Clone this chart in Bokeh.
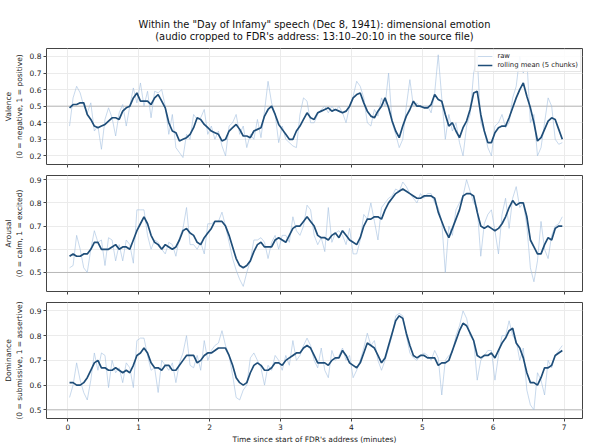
import numpy as np
from bokeh.plotting import figure
from bokeh.layouts import column
from bokeh.models import Span, Title, FixedTicker, Range1d
from bokeh.embed import file_html
from bokeh.resources import INLINE

CHUNK_MIN = 0.05  # each chunk = 3 s

valence_raw = [
    0.38, 0.55, 0.62, 0.58, 0.50, 0.46, 0.52, 0.35, 0.38, 0.24,
    0.42, 0.49, 0.43, 0.32, 0.46, 0.51, 0.38, 0.50, 0.61, 0.52,
    0.64, 0.50, 0.59, 0.43, 0.59, 0.58, 0.60, 0.50, 0.33, 0.45,
    0.25, 0.22, 0.19, 0.33, 0.30, 0.45, 0.42, 0.43, 0.48, 0.33,
    0.38, 0.30, 0.35, 0.26, 0.20, 0.38, 0.40, 0.45, 0.33, 0.38,
    0.25, 0.33, 0.30, 0.42, 0.31, 0.47, 0.65, 0.52, 0.45, 0.28,
    0.38, 0.30, 0.28, 0.26, 0.25, 0.45, 0.55, 0.53, 0.40, 0.40,
    0.45, 0.48, 0.50, 0.46, 0.50, 0.47, 0.50, 0.46, 0.40, 0.50,
    0.56, 0.65, 0.62, 0.55, 0.40, 0.38, 0.48, 0.44, 0.55, 0.50,
    0.70, 0.40, 0.33, 0.25, 0.30, 0.50, 0.66, 0.50, 0.52, 0.49,
    0.50, 0.50, 0.46, 0.58, 0.81, 0.55, 0.30, 0.45, 0.35, 0.40,
    0.28, 0.20, 0.38, 0.45, 0.70, 0.80, 0.40, 0.35, 0.25, 0.20,
    0.38, 0.40, 0.45, 0.37, 0.40, 0.55, 0.62, 0.80, 0.70, 0.78,
    0.40, 0.45, 0.20, 0.25, 0.40, 0.55, 0.50, 0.30, 0.27, 0.28,
]
valence_roll = [
    0.49, 0.51, 0.51, 0.52, 0.52, 0.45, 0.42, 0.38, 0.37, 0.38,
    0.39, 0.41, 0.43, 0.43, 0.42, 0.47, 0.49, 0.50, 0.55, 0.58,
    0.53, 0.53, 0.53, 0.51, 0.55, 0.57, 0.53, 0.49, 0.40, 0.35,
    0.34, 0.29, 0.30, 0.31, 0.33, 0.37, 0.43, 0.42, 0.39, 0.37,
    0.35, 0.34, 0.33, 0.29, 0.30, 0.35, 0.37, 0.39, 0.36, 0.32,
    0.32, 0.31, 0.35, 0.36, 0.37, 0.44, 0.48, 0.50, 0.45, 0.39,
    0.36, 0.33, 0.30, 0.30, 0.35, 0.38, 0.42, 0.46, 0.43, 0.42,
    0.46, 0.47, 0.48, 0.49, 0.47, 0.48, 0.47, 0.46, 0.47, 0.50,
    0.55, 0.57, 0.58, 0.52, 0.47, 0.44, 0.43, 0.47, 0.50, 0.55,
    0.49, 0.41, 0.35, 0.31, 0.38, 0.44, 0.48, 0.53, 0.50, 0.50,
    0.49, 0.49, 0.51, 0.57, 0.54, 0.53, 0.45, 0.38, 0.40, 0.35,
    0.31, 0.37, 0.41, 0.48, 0.58, 0.59, 0.45, 0.35, 0.28, 0.28,
    0.34, 0.37, 0.38, 0.38, 0.43, 0.49, 0.55, 0.60, 0.64, 0.56,
    0.49, 0.40, 0.29, 0.31, 0.36, 0.41, 0.43, 0.42, 0.36, 0.30,
]

arousal_raw = [
    0.52, 0.53, 0.66, 0.60, 0.52, 0.50, 0.60, 0.68, 0.63, 0.64,
    0.53, 0.65, 0.64, 0.55, 0.62, 0.55, 0.64, 0.62, 0.54, 0.77,
    0.77, 0.77, 0.66, 0.60, 0.64, 0.63, 0.60, 0.58, 0.63, 0.62,
    0.57, 0.65, 0.69, 0.78, 0.62, 0.62, 0.60, 0.63, 0.58, 0.71,
    0.71, 0.72, 0.72, 0.76, 0.70, 0.63, 0.56, 0.51, 0.47, 0.44,
    0.50, 0.55, 0.64, 0.64, 0.65, 0.63, 0.56, 0.63, 0.66, 0.60,
    0.66, 0.66, 0.63, 0.74, 0.68, 0.66, 0.70, 0.79, 0.77, 0.66,
    0.62, 0.65, 0.59, 0.78, 0.63, 0.67, 0.68, 0.66, 0.62, 0.69,
    0.58, 0.58, 0.64, 0.75, 0.73, 0.80, 0.72, 0.64, 0.78, 0.80,
    0.82, 0.83, 0.86, 0.85, 0.89, 0.87, 0.84, 0.82, 0.80, 0.84,
    0.82, 0.84, 0.84, 0.80, 0.78, 0.72, 0.50, 0.70, 0.66, 0.77,
    0.80, 0.83, 0.90, 0.85, 0.80, 0.78, 0.57, 0.71, 0.75, 0.77,
    0.68, 0.58, 0.75, 0.82, 0.69, 0.82, 0.87, 0.78, 0.80, 0.70,
    0.52, 0.46, 0.55, 0.72, 0.60, 0.56, 0.66, 0.70, 0.71, 0.74,
]
arousal_roll = [
    0.57, 0.58, 0.57, 0.57, 0.58, 0.58, 0.60, 0.63, 0.63, 0.60,
    0.60, 0.60, 0.61, 0.62, 0.60, 0.61, 0.61, 0.60, 0.64, 0.68,
    0.71, 0.74, 0.71, 0.66, 0.63, 0.62, 0.60, 0.62, 0.61, 0.60,
    0.61, 0.64, 0.68, 0.69, 0.67, 0.66, 0.63, 0.62, 0.65, 0.67,
    0.69, 0.72, 0.72, 0.72, 0.70, 0.66, 0.61, 0.56, 0.53, 0.52,
    0.53, 0.55, 0.59, 0.62, 0.63, 0.61, 0.61, 0.61, 0.64, 0.65,
    0.64, 0.63, 0.66, 0.69, 0.70, 0.70, 0.72, 0.74, 0.72, 0.70,
    0.66, 0.65, 0.65, 0.64, 0.66, 0.67, 0.65, 0.68, 0.66, 0.64,
    0.63, 0.62, 0.65, 0.70, 0.73, 0.73, 0.74, 0.74, 0.73, 0.77,
    0.80, 0.82, 0.84, 0.85, 0.86, 0.85, 0.84, 0.83, 0.82, 0.82,
    0.83, 0.83, 0.83, 0.82, 0.76, 0.72, 0.68, 0.65, 0.69, 0.73,
    0.77, 0.83, 0.84, 0.84, 0.83, 0.76, 0.70, 0.69, 0.70, 0.69,
    0.68, 0.69, 0.71, 0.74, 0.78, 0.81, 0.79, 0.80, 0.80, 0.74,
    0.64, 0.61, 0.58, 0.58, 0.62, 0.65, 0.64, 0.69, 0.70, 0.70,
]

dominance_raw = [
    0.55, 0.60, 0.69, 0.62, 0.57, 0.54, 0.62, 0.73, 0.66, 0.73,
    0.72, 0.59, 0.70, 0.65, 0.67, 0.61, 0.69, 0.67, 0.59, 0.78,
    0.79, 0.79, 0.72, 0.66, 0.67, 0.57, 0.70, 0.68, 0.66, 0.69,
    0.61, 0.69, 0.73, 0.80, 0.68, 0.67, 0.72, 0.66, 0.78, 0.70,
    0.74, 0.76, 0.77, 0.82, 0.76, 0.72, 0.64, 0.55, 0.54, 0.58,
    0.60, 0.71, 0.73, 0.70, 0.67, 0.60, 0.68, 0.66, 0.72, 0.70,
    0.66, 0.72, 0.68, 0.78, 0.70, 0.72, 0.76, 0.79, 0.76, 0.70,
    0.67, 0.75, 0.66, 0.63, 0.74, 0.70, 0.72, 0.75, 0.70, 0.72,
    0.63, 0.66, 0.70, 0.75, 0.81, 0.76, 0.78, 0.70, 0.66, 0.70,
    0.75, 0.80, 0.88, 0.89, 0.88, 0.80, 0.73, 0.71, 0.70, 0.72,
    0.73, 0.72, 0.70, 0.74, 0.71, 0.56, 0.70, 0.72, 0.73, 0.80,
    0.84, 0.90, 0.87, 0.80, 0.78, 0.62, 0.70, 0.72, 0.74, 0.74,
    0.62, 0.72, 0.80, 0.80, 0.86, 0.80, 0.78, 0.70, 0.75, 0.58,
    0.52, 0.50, 0.65, 0.62, 0.56, 0.70, 0.67, 0.72, 0.74, 0.76,
]
dominance_roll = [
    0.61, 0.61, 0.60, 0.60, 0.61, 0.63, 0.66, 0.69, 0.70, 0.67,
    0.67, 0.66, 0.66, 0.67, 0.66, 0.65, 0.66, 0.65, 0.68, 0.72,
    0.73, 0.75, 0.73, 0.69, 0.67, 0.67, 0.66, 0.68, 0.68, 0.66,
    0.66, 0.68, 0.70, 0.72, 0.72, 0.72, 0.69, 0.70, 0.72, 0.73,
    0.73, 0.74, 0.75, 0.75, 0.75, 0.72, 0.68, 0.63, 0.61, 0.60,
    0.61, 0.65, 0.68, 0.69, 0.68, 0.66, 0.66, 0.67, 0.69, 0.69,
    0.68, 0.70, 0.71, 0.72, 0.73, 0.73, 0.75, 0.76, 0.75, 0.72,
    0.69, 0.69, 0.69, 0.68, 0.70, 0.71, 0.71, 0.74, 0.72, 0.69,
    0.68, 0.67, 0.69, 0.73, 0.77, 0.76, 0.75, 0.72, 0.69, 0.71,
    0.76, 0.81, 0.86, 0.88, 0.87, 0.81, 0.76, 0.72, 0.71, 0.72,
    0.72, 0.71, 0.71, 0.71, 0.68, 0.69, 0.69, 0.70, 0.74, 0.78,
    0.82, 0.85, 0.84, 0.81, 0.78, 0.72, 0.71, 0.72, 0.72, 0.73,
    0.71, 0.74, 0.77, 0.79, 0.82, 0.83, 0.77, 0.75, 0.71, 0.65,
    0.61, 0.61, 0.60, 0.63, 0.67, 0.67, 0.68, 0.72, 0.73, 0.74,
]

x_ticks = [0, 1, 2, 3, 4, 5, 6, 7]
valence_ticks = [0.2, 0.3, 0.4, 0.5, 0.6, 0.7, 0.8]
arousal_ticks = [0.5, 0.6, 0.7, 0.8, 0.9]
dominance_ticks = [0.5, 0.6, 0.7, 0.8, 0.9]

title_line1 = "Within the \"Day of Infamy\" speech (Dec 8, 1941): dimensional emotion"
title_line2 = "(audio cropped to FDR's address: 13:10\u201320:10 in the source file)"

t = (np.arange(len(valence_raw)) + 0.5) * CHUNK_MIN

FONT = "DejaVu Sans"
RAW_COLOR = "#a3bfdf"
ROLL_COLOR = "#1f4e79"
FRAME_W = 536
FRAME_H = 116


def make_panel(raw, roll, ylabel, yticks, yr, first=False, last=False):
    p = figure(frame_width=FRAME_W, frame_height=FRAME_H,
               x_range=Range1d(-0.30, 7.26), y_range=Range1d(*yr),
               output_backend="svg", toolbar_location=None,
               min_border_left=40, min_border_right=1,
               min_border_top=48 if first else 5,
               min_border_bottom=6 if not last else 0)
    p.outline_line_color = "#444444"
    p.outline_line_width = 1
    p.background_fill_color = "white"
    p.grid.grid_line_color = "#ebebeb"
    p.grid.grid_line_width = 1
    p.xaxis.ticker = FixedTicker(ticks=x_ticks)
    p.yaxis.ticker = FixedTicker(ticks=yticks)
    for ax in (p.xaxis, p.yaxis):
        ax.axis_line_color = None
        ax.major_tick_line_color = "#444444"
        ax.major_tick_out = 3
        ax.major_tick_in = 0
        ax.minor_tick_line_color = None
        ax.major_label_text_font = FONT
        ax.major_label_text_font_size = "7.5px"
        ax.major_label_text_color = "#222222"
        ax.axis_label_text_font = FONT
        ax.axis_label_text_font_size = "7.5px"
        ax.axis_label_text_font_style = "normal"
        ax.axis_label_text_color = "#222222"
    p.yaxis.axis_label = ylabel
    p.yaxis.axis_label_standoff = 3
    p.yaxis.major_label_standoff = 2
    if last:
        p.xaxis.axis_label = "Time since start of FDR's address (minutes)"
        p.xaxis.major_label_standoff = 2
        p.xaxis.axis_label_standoff = 2
    else:
        # shared x axis: tick marks only, no labels
        p.xaxis.major_label_text_font_size = "0px"
        p.xaxis.major_label_text_color = None
        p.xaxis.major_label_standoff = 0

    span = Span(location=0.5, dimension="width", line_color="#b8b8b8",
                line_width=1, level="underlay")
    p.add_layout(span)

    if first:
        p.line(t, raw, line_color=RAW_COLOR, line_width=1, line_alpha=0.6,
               legend_label="raw")
        p.line(t, roll, line_color=ROLL_COLOR, line_width=1.7,
               legend_label="rolling mean (5 chunks)")
        lg = p.legend[0]
        lg.location = "top_right"
        lg.label_text_font = FONT
        lg.label_text_font_size = "6.8px"
        lg.label_text_color = "#222222"
        lg.glyph_width = 15
        lg.glyph_height = 8
        lg.label_height = 8
        lg.label_standoff = 5
        lg.spacing = 1
        lg.padding = 2
        lg.margin = 1
        lg.border_line_color = "#cccccc"
        lg.background_fill_alpha = 0.85
    else:
        p.line(t, raw, line_color=RAW_COLOR, line_width=1, line_alpha=0.6)
        p.line(t, roll, line_color=ROLL_COLOR, line_width=1.7)
    return p


p1 = make_panel(valence_raw, valence_roll,
                "Valence\n(0 = negative, 1 = positive)",
                valence_ticks, (0.148, 0.848), first=True)
p2 = make_panel(arousal_raw, arousal_roll,
                "Arousal\n(0 = calm, 1 = excited)",
                arousal_ticks, (0.418, 0.918))
p3 = make_panel(dominance_raw, dominance_roll,
                "Dominance\n(0 = submissive, 1 = assertive)",
                dominance_ticks, (0.465, 0.934), last=True)

title = Title(text=title_line1 + "\n" + title_line2,
              align="center", text_font=FONT, text_font_size="9.9px",
              text_font_style="normal", text_color="#111111", offset=-21,
              standoff=12, text_line_height=1.1)
if "text_align" in Title.properties():
    title.text_align = "center"
p1.add_layout(title, "above")

layout = column(p1, p2, p3, spacing=0)

open("out.html", "w").write(file_html(layout, INLINE))
